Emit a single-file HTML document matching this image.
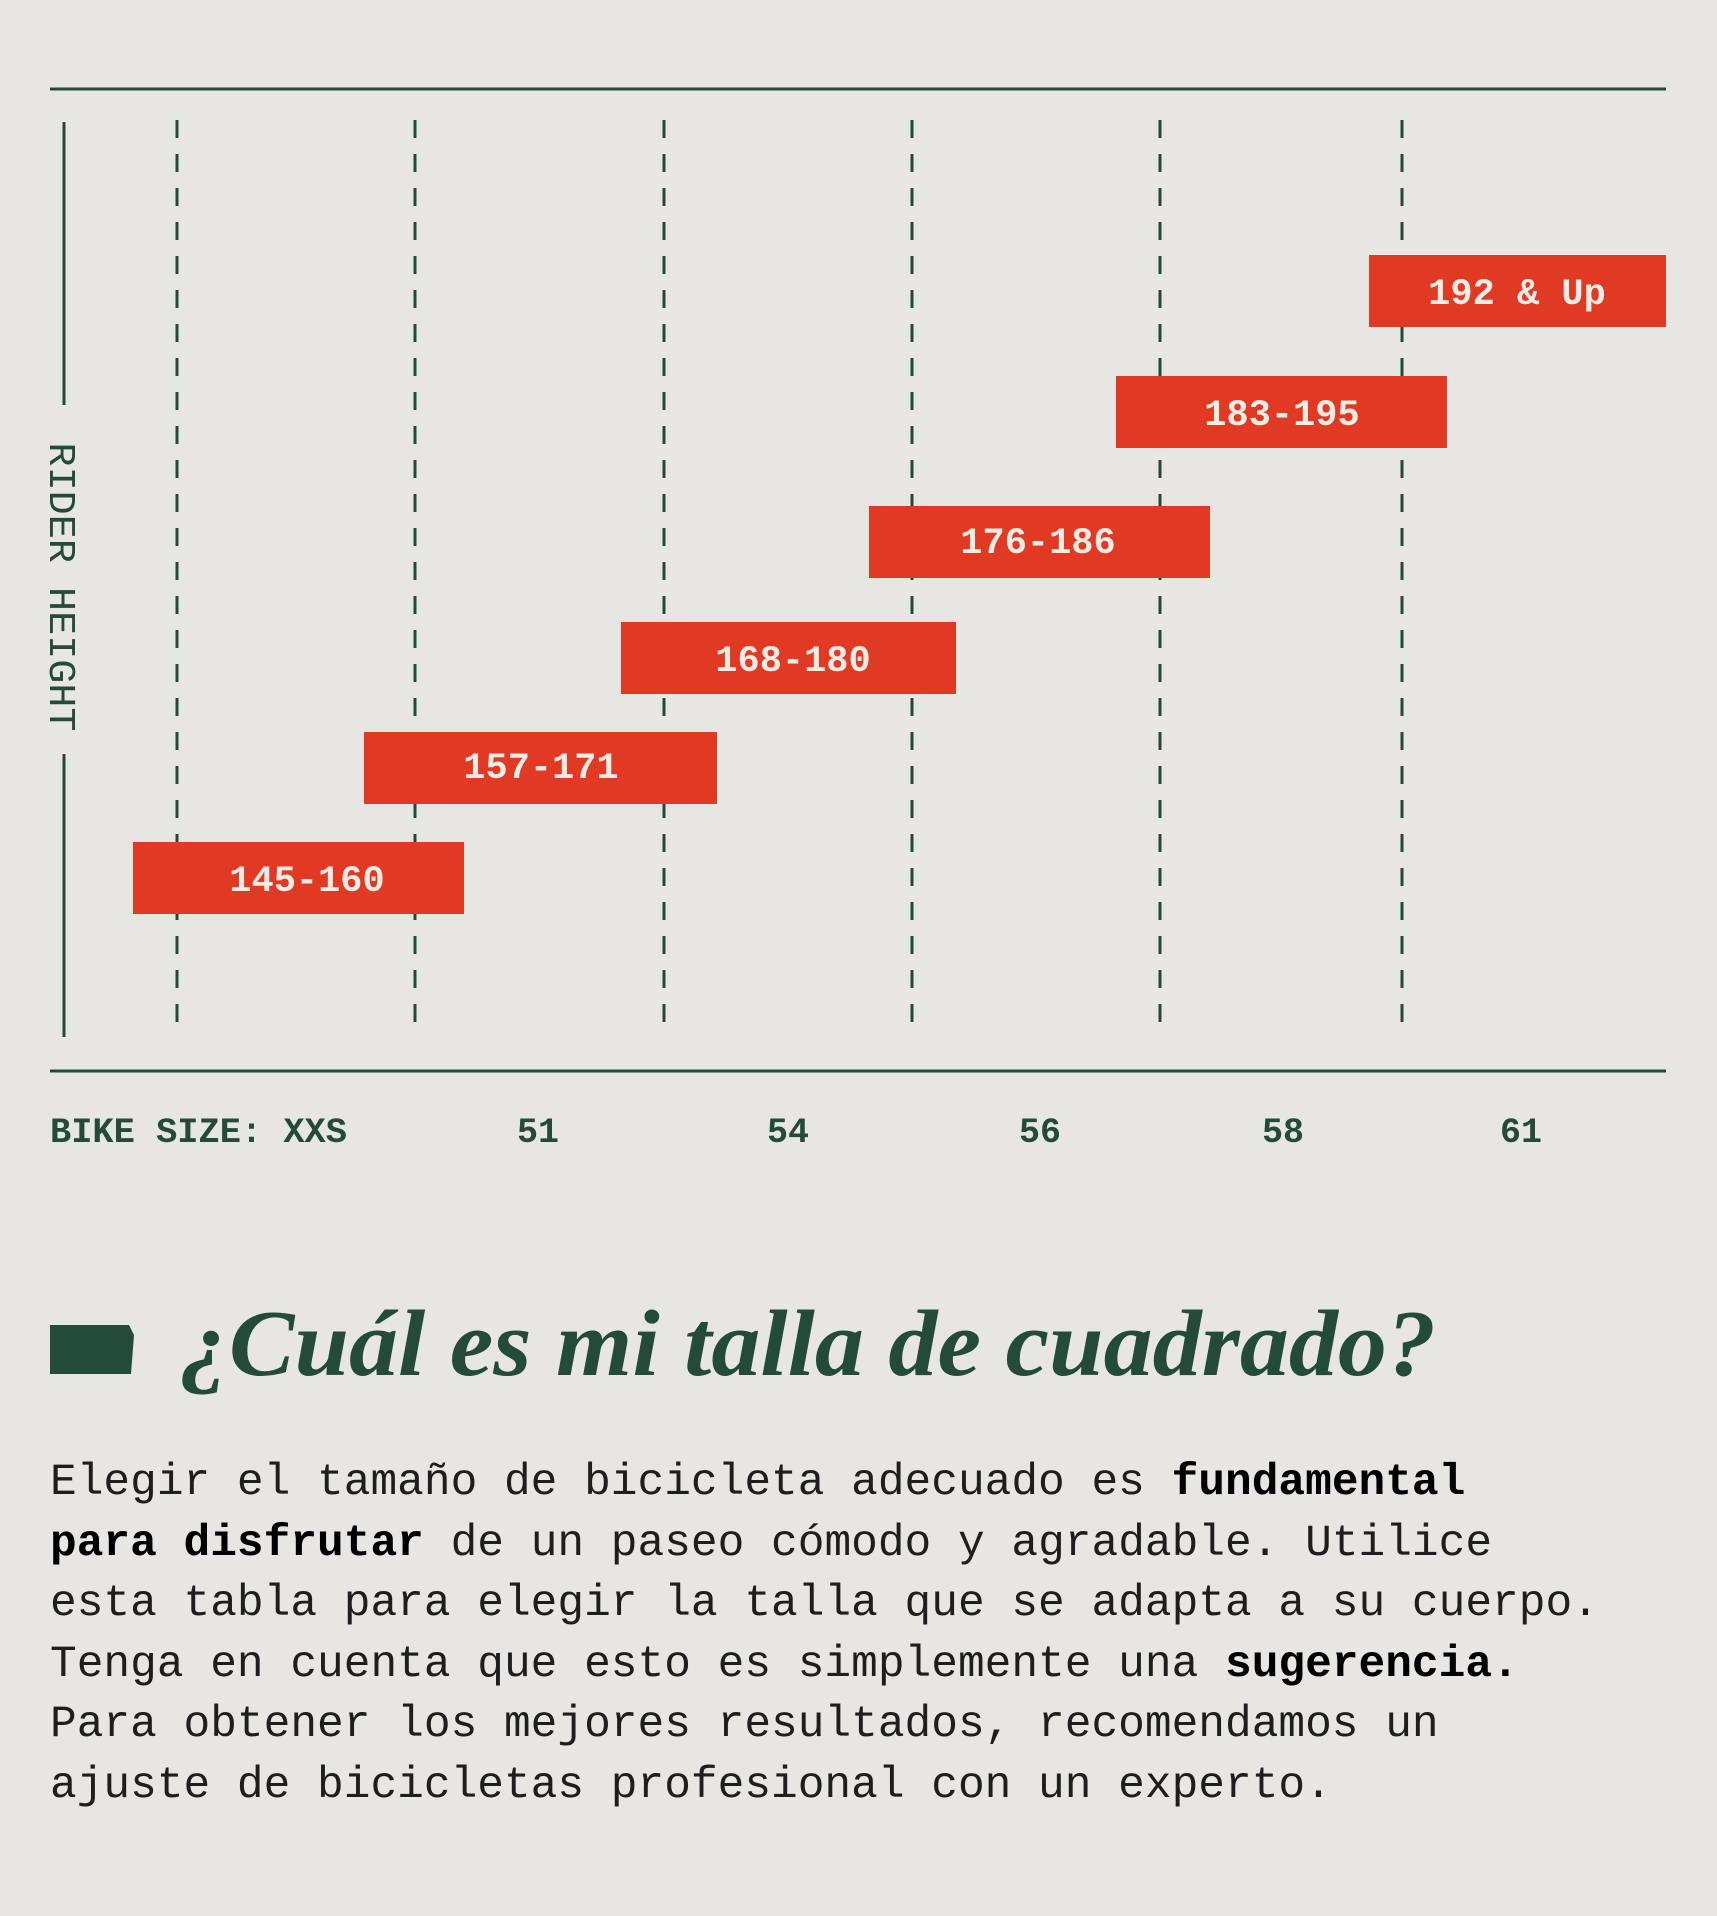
<!DOCTYPE html>
<html><head><meta charset="utf-8"><style>
html,body{margin:0;padding:0;background:#e8e6e2;}
svg{display:block}
</style></head><body>
<svg width="1717" height="1916" viewBox="0 0 1717 1916" xmlns="http://www.w3.org/2000/svg">
<rect width="1717" height="1916" fill="#e8e6e2"/>
<g stroke="#234a3a">
<line x1="50" y1="89" x2="1666" y2="89" stroke-width="3"/>
<line x1="50" y1="1071" x2="1666" y2="1071" stroke-width="3"/>
<line x1="64" y1="122" x2="64" y2="405" stroke-width="3"/>
<line x1="64" y1="754" x2="64" y2="1037" stroke-width="3"/>
<g stroke-width="3" stroke-dasharray="18 16">
<line x1="177" y1="120" x2="177" y2="1032"/>
<line x1="415" y1="120" x2="415" y2="1032"/>
<line x1="664" y1="120" x2="664" y2="1032"/>
<line x1="912" y1="120" x2="912" y2="1032"/>
<line x1="1160" y1="120" x2="1160" y2="1032"/>
<line x1="1402" y1="120" x2="1402" y2="1032"/>
</g>
</g>
<text transform="translate(50,587) rotate(90)" text-anchor="middle" font-family="Liberation Mono, monospace" font-size="38" fill="#234a3a" textLength="289" lengthAdjust="spacingAndGlyphs">RIDER HEIGHT</text>
<g fill="#e03a24">
<rect x="133" y="842" width="331" height="72"/>
<rect x="364" y="732" width="353" height="72"/>
<rect x="621" y="622" width="335" height="72"/>
<rect x="869" y="506" width="341" height="72"/>
<rect x="1116" y="376" width="331" height="72"/>
<rect x="1369" y="255" width="297" height="72"/>
</g>
<g font-family="Liberation Mono, monospace" font-weight="bold" font-size="37" fill="#f7ebe4" text-anchor="middle">
<text x="307" y="891">145-160</text>
<text x="541" y="778">157-171</text>
<text x="793" y="671">168-180</text>
<text x="1038" y="553">176-186</text>
<text x="1282" y="425">183-195</text>
<text x="1517" y="304">192 &amp; Up</text>
</g>
<g font-family="Liberation Mono, monospace" font-weight="bold" font-size="35" fill="#234a3a">
<text x="50" y="1142" textLength="297" lengthAdjust="spacingAndGlyphs">BIKE SIZE: XXS</text>
<g text-anchor="middle">
<text x="538" y="1142">51</text>
<text x="788" y="1142">54</text>
<text x="1040" y="1142">56</text>
<text x="1283" y="1142">58</text>
<text x="1521" y="1142">61</text>
</g>
</g>
<path d="M50 1325 L129 1325 L134 1335 L131 1374 L50 1374 Z" fill="#234a3a"/>
<text x="180" y="1375" font-family="Liberation Serif, serif" font-style="italic" font-weight="bold" font-size="94" fill="#234a3a" textLength="1256" lengthAdjust="spacingAndGlyphs">¿Cuál es mi talla de cuadrado?</text>
<g font-family="Liberation Mono, monospace" font-size="44.5" fill="#1e1e1e">
<text x="50" y="1494">Elegir el tamaño de bicicleta adecuado es <tspan font-weight="bold" fill="#000">fundamental</tspan></text>
<text x="50" y="1555"><tspan font-weight="bold" fill="#000">para disfrutar</tspan> de un paseo cómodo y agradable. Utilice</text>
<text x="50" y="1615">esta tabla para elegir la talla que se adapta a su cuerpo.</text>
<text x="50" y="1676">Tenga en cuenta que esto es simplemente una <tspan font-weight="bold" fill="#000">sugerencia.</tspan></text>
<text x="50" y="1736">Para obtener los mejores resultados, recomendamos un</text>
<text x="50" y="1797">ajuste de bicicletas profesional con un experto.</text>
</g>
</svg>
</body></html>
